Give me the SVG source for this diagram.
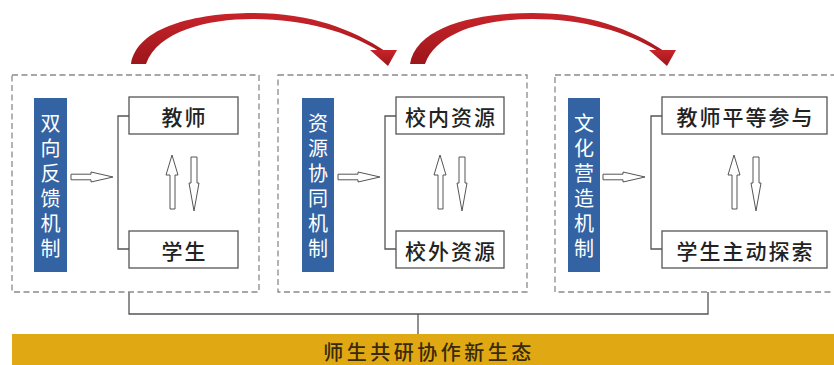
<svg xmlns="http://www.w3.org/2000/svg" width="834" height="365" viewBox="0 0 834 365">
<style>
.frame{fill:none;stroke:#8a8a8a;stroke-width:1.3;stroke-dasharray:6 3.5}
.bar{fill:#3463a4}
.bt{font-family:"Noto Sans CJK SC","Noto Sans",sans-serif;font-size:20px;fill:#ffffff;writing-mode:vertical-rl;text-anchor:start;letter-spacing:5px}
.box{fill:#ffffff;stroke:#555;stroke-width:1.3}
.lbl{font-family:"Noto Sans CJK SC","Noto Sans",sans-serif;font-size:21px;font-weight:500;fill:#222;text-anchor:middle;dominant-baseline:central;letter-spacing:2px}
.ln{fill:none;stroke:#555;stroke-width:1.3}
.ha{fill:#fff;stroke:#555;stroke-width:1}
.foot{fill:#e0a812}
.ft{font-family:"Noto Sans CJK SC","Noto Sans",sans-serif;font-size:20px;font-weight:500;fill:#3a2a0c;text-anchor:middle;dominant-baseline:central;letter-spacing:3.5px}
</style>
<defs>
<linearGradient id="rg" x1="0" y1="0" x2="0" y2="1">
<stop offset="0" stop-color="#c8242a"/>
<stop offset="1" stop-color="#9c161b"/>
</linearGradient>
<g id="curve">
<path d="M131,64 C137,27 195,13 253,13 C310,13 352,29 385,51 L379,51 C348,32 305,19 253,19 C207,19 158,31 146,64 Z" fill="url(#rg)"/>
<polygon points="370,50 397,50 388,66" fill="url(#rg)"/>
</g>
<g id="vpair">
<polygon class="ha" points="0,0 6,20 3,20 3,54 -2,54 -2,20 -6,20"/>
<polygon class="ha" points="19,2 25,2 25,28 27,28 22,56 17,28 19,28"/>
</g>
<polygon id="harrow" class="ha" points="0,-2.8 20,-2.8 20,-5 42,0 20,5 20,2.8 0,2.8"/>
</defs>

<g id="connectors">
<use href="#curve"/>
<use href="#curve" x="279"/>
<polyline class="ln" points="129,292 129,314 708,314 708,292"/>
<line class="ln" x1="418" y1="314" x2="418" y2="334"/>
<polyline class="ln" points="129,116 118,116 118,249 129,249"/>
<polyline class="ln" points="396,116 385,116 385,249 396,249"/>
<polyline class="ln" points="662,116 651,116 651,249 662,249"/>
<use href="#harrow" x="71" y="177"/>
<use href="#harrow" x="338" y="177"/>
<use href="#harrow" x="603" y="177"/>
<use href="#vpair" x="172" y="155"/>
<use href="#vpair" x="440" y="155"/>
<use href="#vpair" x="734" y="155"/>
</g>

<g id="group1">
<rect class="frame" x="12" y="75" width="247" height="217"/>
</g>
<g id="group2">
<rect class="frame" x="278" y="75" width="249" height="217"/>
</g>
<g id="group3">
<rect class="frame" x="555" y="75" width="300" height="217"/>
</g>

<g id="mech1">
<rect class="bar" x="34" y="98" width="33" height="174"/>
<text class="bt" x="50.5" y="113">双向反馈机制</text>
</g>
<g id="mech2">
<rect class="bar" x="302" y="98" width="32" height="174"/>
<text class="bt" x="318" y="113">资源协同机制</text>
</g>
<g id="mech3">
<rect class="bar" x="568" y="98" width="32" height="174"/>
<text class="bt" x="584" y="113">文化营造机制</text>
</g>

<g id="teacher">
<rect class="box" x="129" y="97" width="109" height="37"/>
<text class="lbl" x="184.5" y="115.5">教师</text>
</g>
<g id="student">
<rect class="box" x="129" y="231" width="109" height="37"/>
<text class="lbl" x="184.5" y="249.5">学生</text>
</g>
<g id="inner-res">
<rect class="box" x="396" y="97" width="108" height="37"/>
<text class="lbl" x="451" y="115.5">校内资源</text>
</g>
<g id="outer-res">
<rect class="box" x="396" y="231" width="108" height="37"/>
<text class="lbl" x="451" y="249.5">校外资源</text>
</g>
<g id="teacher-equal">
<rect class="box" x="662" y="97" width="165" height="37"/>
<text class="lbl" x="745.5" y="115.5">教师平等参与</text>
</g>
<g id="student-explore">
<rect class="box" x="662" y="231" width="165" height="37"/>
<text class="lbl" x="745.5" y="249.5">学生主动探索</text>
</g>

<g id="ecology">
<rect class="foot" x="12" y="334" width="830" height="31"/>
<text class="ft" x="429" y="351">师生共研协作新生态</text>
</g>
</svg>
